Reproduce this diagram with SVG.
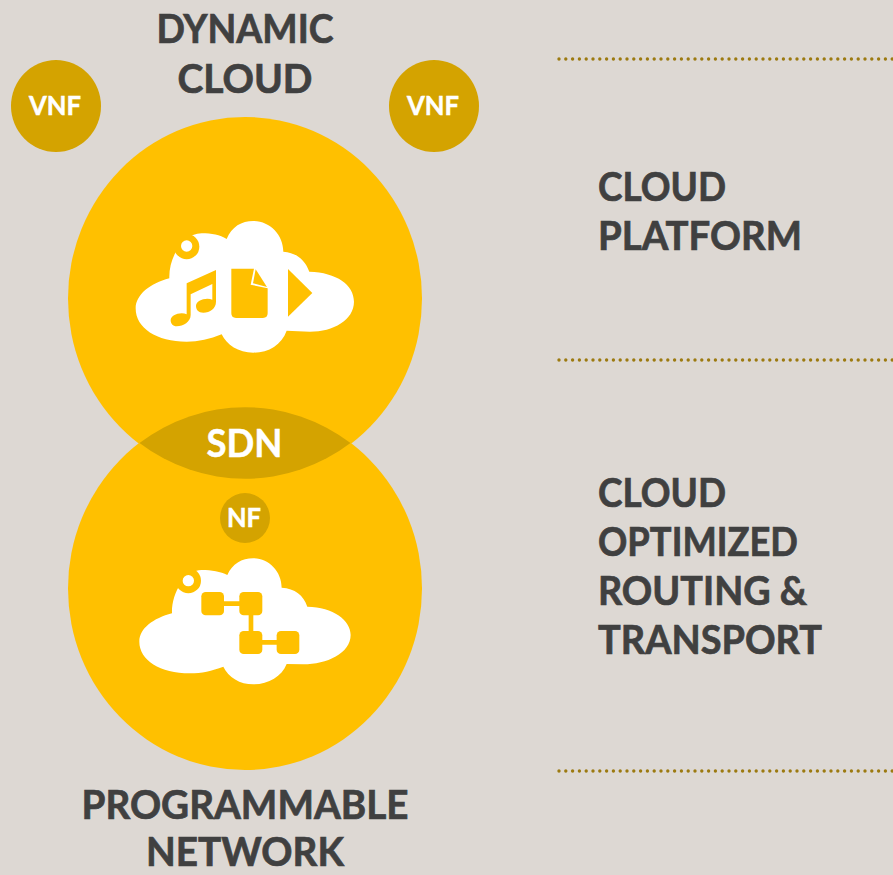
<svg xmlns="http://www.w3.org/2000/svg" width="893" height="875" viewBox="0 0 893 875">
<style>
text{font-family:Lato,"Noto Sans","DejaVu Sans",sans-serif;font-weight:700}
.h{fill:#404040;stroke:#404040;stroke-width:.7px;font-size:41px}
.m{text-anchor:middle}
.w{fill:#fff;stroke:#fff;stroke-width:.5px;text-anchor:middle}
.big{fill:#ffc000}
.dk{fill:#d4a300}
.cl{fill:#fff}
.y{fill:#ffc000}
.dot{stroke:#9c7a10;stroke-width:3.4;stroke-linecap:round;stroke-dasharray:0 6.8;fill:none}
</style>
<rect width="893" height="875" fill="#ddd8d3"/>
<g id="connectors">
<path class="dot" d="M559 59H893"/>
<path class="dot" d="M559 360H893"/>
<path class="dot" d="M559 771H893"/>
</g>
<g id="programmable-network"><ellipse class="big" cx="245" cy="588.5" rx="177" ry="181.5"/></g>
<g id="dynamic-cloud"><ellipse class="big" cx="245" cy="298.5" rx="177" ry="181.5"/></g>
<g id="sdn">
<path class="dk" d="M139.500 443A177 181.500 0 0 1 350.500 443A177 181.500 0 0 1 139.500 443Z"/>
<text class="w" x="244.500" y="457" font-size="39" textLength="76" lengthAdjust="spacingAndGlyphs">SDN</text>
</g>
<g id="cloud-platform-icon" transform="translate(120 200) scale(.3333)">
<path class="cl" d="M148 235C146 170 190 100 245 100C275 100 300 105 320 117C335 80 365 63 400 63C450 63 490 105 490 155C530 158 555 180 568 215C650 217 702 255 702 305C702 360 640 395 570 395L500 392C485 435 445 458 400 458C355 458 320 435 305 403C270 418 235 425 200 425C110 425 47 385 47 325C47 285 90 250 148 235Z"/>
<circle class="y" cx="200" cy="140" r="38"/>
<circle class="cl" cx="200" cy="138" r="17"/>
<path class="y" d="M200 250L288 210V305C288 325 270 338 250 338C235 338 228 329 228 318C228 305 245 296 262 296C268 296 273 297 277 299V252L212 283V345C212 365 190 379 170 379C158 379 152 371 152 361C152 349 168 340 185 340C191 340 196 341 200 343Z"/>
<path class="y" d="M334 206H402L392 254L443 265V340Q443 354 429 354H348Q334 354 334 340Z"/>
<path class="y" d="M407 208L441 261L399 250Z"/>
<path class="y" d="M504 207L577 279L504 350Z"/>
</g>
<g id="network-icon" transform="translate(120 540) scale(.3333)">
<path class="cl" d="M156 220C154 160 195 90 245 90C275 90 302 95 322 105C337 72 365 55 400 55C447 55 485 95 485 143C525 146 550 165 562 200C640 202 692 240 692 285C692 340 620 373 550 373L500 372C485 410 445 433 400 433C360 433 325 412 310 380C275 393 245 400 210 400C120 400 58 360 58 305C58 265 100 235 156 220Z"/>
<circle class="y" cx="205" cy="122" r="38"/>
<circle class="cl" cx="205" cy="122" r="17"/>
<path d="M300 191H370M393 210V290M415 307H480" stroke="#ffc000" stroke-width="14" fill="none"/>
<rect class="y" x="244" y="156" width="68" height="70" rx="13"/>
<rect class="y" x="358" y="156" width="69" height="70" rx="13"/>
<rect class="y" x="358" y="273" width="69" height="69" rx="13"/>
<rect class="y" x="470" y="273" width="68" height="69" rx="13"/>
</g>
<g id="vnf-left"><ellipse class="dk" cx="56" cy="106" rx="45" ry="46"/><text class="w" x="55" y="115" font-size="27" textLength="52" lengthAdjust="spacingAndGlyphs">VNF</text></g>
<g id="vnf-right"><ellipse class="dk" cx="434" cy="106" rx="45" ry="46"/><text class="w" x="433" y="115" font-size="27" textLength="52" lengthAdjust="spacingAndGlyphs">VNF</text></g>
<g id="nf"><circle class="dk" cx="245" cy="518" r="25"/><text class="w" x="244" y="527" font-size="26" textLength="34" lengthAdjust="spacingAndGlyphs">NF</text></g>
<g id="label-dynamic-cloud"><text class="h m" x="245" y="43" textLength="177" lengthAdjust="spacingAndGlyphs">DYNAMIC</text><text class="h m" x="245" y="93" textLength="135" lengthAdjust="spacingAndGlyphs">CLOUD</text></g>
<g id="label-programmable-network"><text class="h m" x="245" y="819" textLength="327" lengthAdjust="spacingAndGlyphs">PROGRAMMABLE</text><text class="h m" x="245" y="866" style="font-size:40px" textLength="198" lengthAdjust="spacingAndGlyphs">NETWORK</text></g>
<g id="label-cloud-platform"><text class="h" x="598" y="201" textLength="128" lengthAdjust="spacingAndGlyphs">CLOUD</text><text class="h" x="598" y="250" textLength="204" lengthAdjust="spacingAndGlyphs">PLATFORM</text></g>
<g id="label-routing"><text class="h" x="598" y="507" textLength="128" lengthAdjust="spacingAndGlyphs">CLOUD</text><text class="h" x="598" y="556" textLength="200" lengthAdjust="spacingAndGlyphs">OPTIMIZED</text><text class="h" x="598" y="605" textLength="209" lengthAdjust="spacingAndGlyphs">ROUTING &amp;</text><text class="h" x="598" y="654" textLength="224" lengthAdjust="spacingAndGlyphs">TRANSPORT</text></g>
</svg>
